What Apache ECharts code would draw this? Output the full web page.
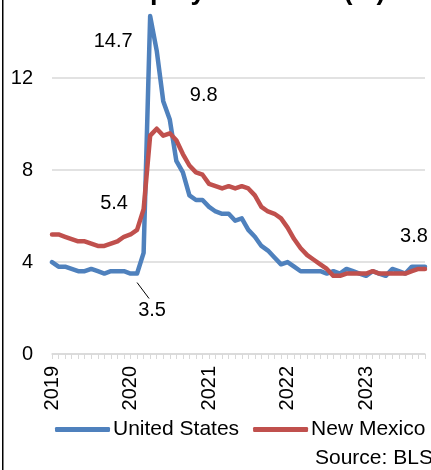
<!DOCTYPE html>
<html>
<head>
<meta charset="utf-8">
<script src="https://cdn.jsdelivr.net/npm/echarts@6/dist/echarts.min.js"></script>
<style>
  html, body { margin: 0; padding: 0; background: #fff; }
  #chart { width: 431px; height: 470px; }
</style>
</head>
<body>
<div id="chart"></div>
<script>
var years = ['2019', '2020', '2021', '2022', '2023']
// monthly categories, Jan 2019 .. Oct 2023
var months = []
years.forEach(function (y) {
  for (var m = 1; m <= 12; m++) {
    if (y === '2023' && m > 10) break
    months.push(y + '-' + (m < 10 ? '0' + m : m))
  }
})

var usRate = [
  4.0, 3.8, 3.8, 3.7, 3.6, 3.6, 3.7, 3.6, 3.5, 3.6, 3.6, 3.6,
  3.5, 3.5, 4.4, 14.7, 13.2, 11.0, 10.2, 8.4, 7.9, 6.9, 6.7, 6.7,
  6.4, 6.2, 6.1, 6.1, 5.8, 5.9, 5.4, 5.1, 4.7, 4.5, 4.2, 3.9,
  4.0, 3.8, 3.6, 3.6, 3.6, 3.6, 3.5, 3.6, 3.5, 3.7, 3.6, 3.5,
  3.4, 3.6, 3.5, 3.4, 3.7, 3.6, 3.5, 3.8, 3.8, 3.8
]
var nmRate = [
  5.2, 5.2, 5.1, 5.0, 4.9, 4.9, 4.8, 4.7, 4.7, 4.8, 4.9, 5.1,
  5.2, 5.4, 6.3, 9.5, 9.8, 9.5, 9.6, 9.3, 8.7, 8.2, 7.9, 7.8,
  7.4, 7.3, 7.2, 7.3, 7.2, 7.3, 7.2, 6.9, 6.4, 6.2, 6.1, 5.9,
  5.5, 5.0, 4.6, 4.3, 4.1, 3.9, 3.7, 3.4, 3.4, 3.5, 3.5, 3.5,
  3.5, 3.6, 3.5, 3.5, 3.5, 3.5, 3.5, 3.6, 3.7, 3.7
]
var yTicks = [0, 4, 8, 12]

// which points carry a value label, and how far the label is moved
var usLabels = { 13: [15, 52], 15: [-37, 40], 57: [-11, -15] }
var nmLabels = { 13: [-23, -11], 16: [47, -18] }
var leaderIndex = 13 // US point whose label gets a leader line

var font = "'Liberation Sans', Arial, sans-serif"

function withLabels(values, marks) {
  return values.map(function (v, i) {
    if (!marks[i]) return v
    return { value: v, label: { show: true } }
  })
}

function mover(marks) {
  return function (params) {
    var d = marks[params.dataIndex]
    if (!d) return {}
    return { dx: d[0], dy: d[1] }
  }
}

var myChart = echarts.init(document.getElementById('chart'))
var option = {
  animation: false,
  textStyle: { fontFamily: font },
  legend: {
    bottom: 25,
    left: 50,
    icon: 'roundRect',
    itemWidth: 55,
    itemHeight: 5,
    itemGap: 14,
    textStyle: { fontSize: 21, color: '#000', fontFamily: font, padding: [0, 0, 0, -2] },
    data: ['United States', 'New Mexico']
  },
  grid: {
    left: 52,
    right: 6,
    top: 0,
    bottom: 116
  },
  xAxis: {
    type: 'category',
    data: months,
    boundaryGap: false,
    axisLine: { lineStyle: { color: '#d9d9d9', width: 1.5 } },
    axisTick: {
      interval: 0,
      length: 5,
      lineStyle: { color: '#d9d9d9', width: 1 }
    },
    axisLabel: {
      interval: function (index) { return index % 12 === 0 },
      rotate: 90,
      margin: 12,
      fontSize: 20,
      color: '#000',
      fontFamily: font,
      formatter: function (value) { return value.slice(0, 4) }
    },
    splitLine: { show: false }
  },
  yAxis: {
    type: 'value',
    min: yTicks[0],
    max: 15.4,
    interval: 4,
    axisLine: { show: false },
    axisTick: { show: false },
    axisLabel: {
      fontSize: 20,
      color: '#000',
      margin: 19,
      fontFamily: font,
      showMaxLabel: false
    },
    splitLine: { showMaxLine: false, lineStyle: { color: '#d9d9d9', width: 1.5 } }
  },
  series: [
    {
      name: 'United States',
      type: 'line',
      data: withLabels(usRate, usLabels),
      symbol: 'circle',
      symbolSize: 0.01,
      showSymbol: true,
      color: '#4f81bd',
      lineStyle: { width: 4.5, color: '#4f81bd', cap: 'round', join: 'round' },
      label: {
        show: false,
        position: 'top',
        fontSize: 20,
        color: '#000',
        fontFamily: font,
        formatter: function (p) { return Number(p.value).toFixed(1) }
      },
      labelLayout: mover(usLabels)
    },
    {
      name: 'New Mexico',
      type: 'line',
      data: withLabels(nmRate, nmLabels),
      symbol: 'circle',
      symbolSize: 0.01,
      showSymbol: true,
      color: '#c0504d',
      lineStyle: { width: 4.5, color: '#c0504d', cap: 'round', join: 'round' },
      label: {
        show: false,
        position: 'top',
        fontSize: 20,
        color: '#000',
        fontFamily: font,
        formatter: function (p) { return Number(p.value).toFixed(1) }
      },
      labelLayout: mover(nmLabels)
    }
  ],
  graphic: [
    {
      // frame edge on the left
      id: 'frame',
      type: 'rect',
      left: 2,
      top: 0,
      shape: { width: 1.5, height: 470 },
      style: { fill: '#000' }
    },
    {
      // title, cut off by the top edge like in the original crop
      id: 'title',
      type: 'text',
      x: 75,
      y: 5,
      style: {
        text: 'Unemployment Rate (%)',
        font: 'bold 27px ' + font,
        fill: '#000',
        align: 'left',
        verticalAlign: 'bottom'
      }
    },
    {
      id: 'source',
      type: 'text',
      left: 315,
      top: 448,
      style: { text: 'Source: BLS', font: '21px ' + font, fill: '#000' }
    }
  ]
}
myChart.setOption(option)

// leader line from the Feb 2020 US point down to its label
var pt = myChart.convertToPixel({ seriesIndex: 0 }, [months[leaderIndex], usRate[leaderIndex]])
myChart.setOption({
  graphic: [
    {
      id: 'leader',
      type: 'line',
      shape: { x1: pt[0], y1: pt[1] + 9, x2: pt[0] + 12, y2: pt[1] + 25 },
      style: { stroke: '#000', lineWidth: 1 }
    }
  ]
})
</script>
</body>
</html>
